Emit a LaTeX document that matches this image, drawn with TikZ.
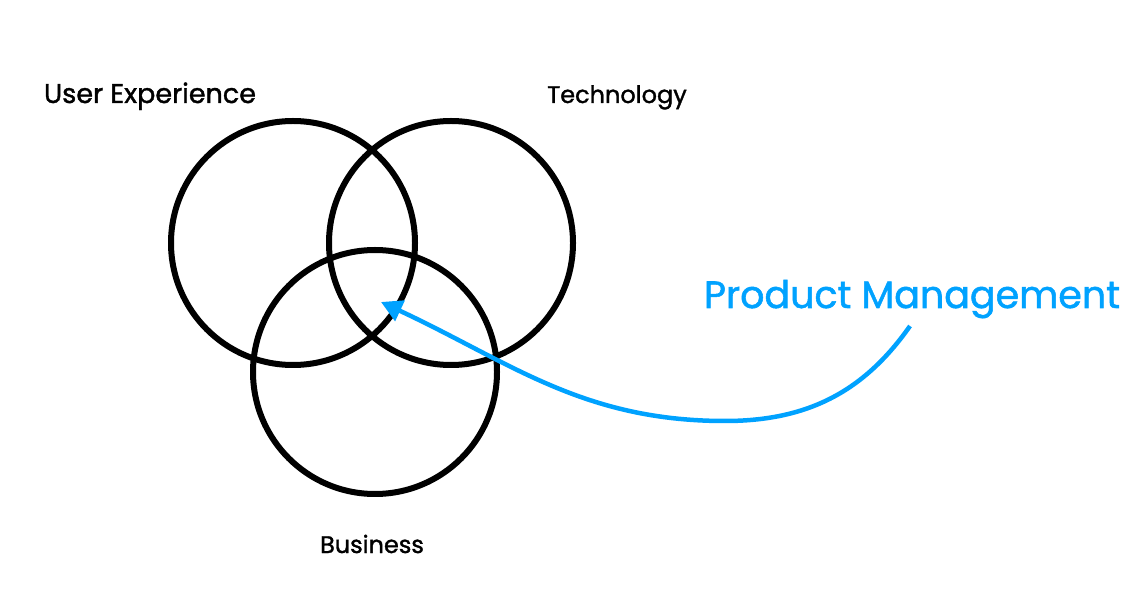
\documentclass[tikz,border=0pt]{standalone}
\usepackage{fontspec}
\setmainfont{Poppins}
\newfontfamily\medfont{Poppins}[BoldFont=Poppins,BoldFeatures={FakeBold=1.4}]
\usetikzlibrary{arrows.meta}
\definecolor{pmblue}{RGB}{0,162,255}
\begin{document}
\begin{tikzpicture}[x=1pt,y=1pt,
  ring/.style={draw=black,line width=6pt,circle,minimum size=244pt,inner sep=0pt},
  lbl/.style={anchor=base,inner sep=0pt,font=\medfont\bfseries\fontsize{24}{28}\selectfont},
  pmlbl/.style={anchor=base,inner sep=0pt,text=pmblue,font=\medfont\bfseries\fontsize{38}{44}\selectfont},
  pmarrow/.style={draw=pmblue,line width=4.5pt,-{Triangle[length=21pt,width=22pt]}}]
\useasboundingbox (0,0) rectangle (1146,600);
\fill[white] (0,0) rectangle (1146,600);
\node[ring] (ux) at (293,357) {};
\node[ring] (tech) at (451,357) {};
\node[ring] (biz) at (375,228) {};
\node[lbl,font=\medfont\bfseries\fontsize{27}{30}\selectfont] (uxl) at (150,497) {User Experience};
\node[lbl] (techl) at (617,497) {Technology};
\node[lbl] (bizl) at (372,47) {Business};
\node[pmlbl] (pml) at (912,292) {Product Management};
\coordinate (start) at (910,274);
\coordinate (low) at (725,179);
\coordinate (tip) at (381,298);
\draw[pmarrow] (start) to[out=235,in=0] (low) to[out=180,in=-25] (tip);
\end{tikzpicture}
\end{document}
